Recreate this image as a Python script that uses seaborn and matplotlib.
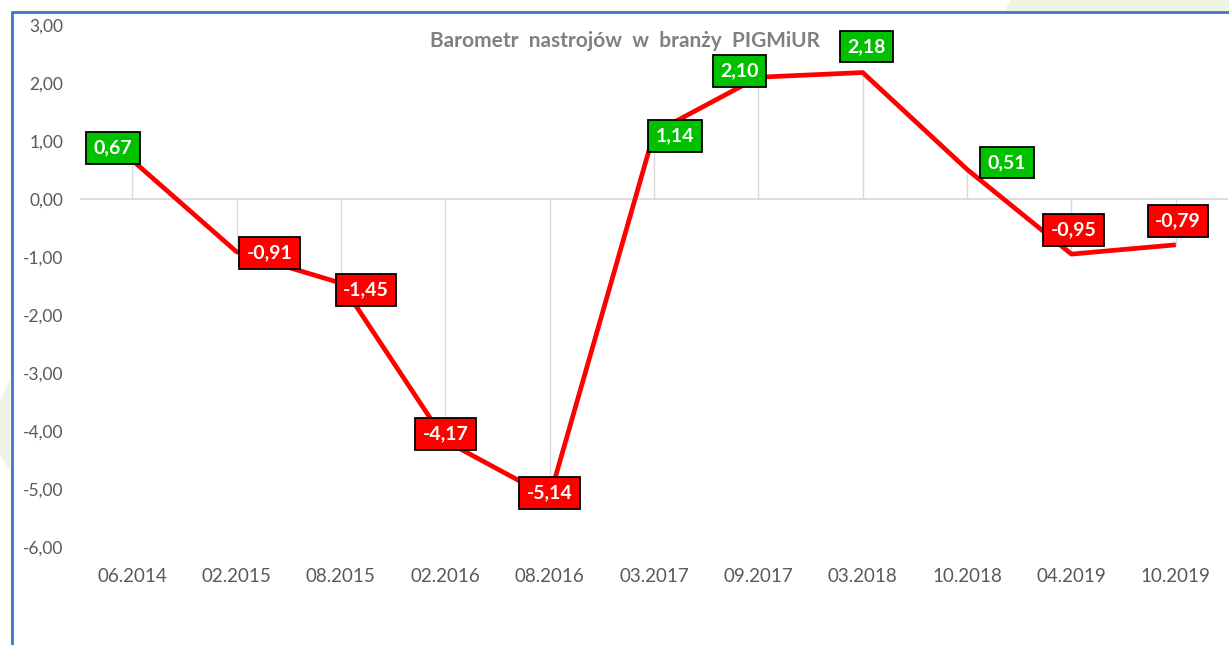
import numpy as np
import pandas as pd
import matplotlib
matplotlib.use("Agg")
import matplotlib.pyplot as plt
import matplotlib.patches as mpatches
from matplotlib.ticker import FuncFormatter
import seaborn as sns

# dane
okresy = ["06.2014", "02.2015", "08.2015", "02.2016", "08.2016", "03.2017",
          "09.2017", "03.2018", "10.2018", "04.2019", "10.2019"]
wartosci = [0.67, -0.91, -1.45, -4.17, -5.14, 1.14, 2.10, 2.18, 0.51, -0.95, -0.79]

# przesunięcia etykiet (piksele, x w prawo, y w górę)
przesuniecia = [(-19, 12), (33, -1), (25, -7), (0, 7), (0, 4), (21, -3),
                (-19, 6), (4, 26), (40, 7), (2, 24), (2, 24)]

df = pd.DataFrame({"okres": okresy, "wartosc": wartosci})

sns.set_style("white")
plt.rcParams["font.family"] = ["Lato", "DejaVu Sans"]

fig = plt.figure(figsize=(12.29, 6.45), dpi=100)
ax = fig.add_axes([80 / 1229, 1 - 547 / 645, 1148 / 1229, 522 / 645])

# linie od zera do punktu
x_pos = np.arange(len(okresy))
ax.vlines(x_pos, 0, df["wartosc"], color="#d9d9d9", lw=1.0, zorder=1)
ax.axhline(0, color="#d9d9d9", lw=1.3, zorder=1)

sns.lineplot(data=df, x="okres", y="wartosc", sort=False, color="#ff0000",
             lw=3.4, ax=ax, zorder=3, solid_joinstyle="round",
             solid_capstyle="butt")

# etykiety danych
for i, (v, (dx, dy)) in enumerate(zip(wartosci, przesuniecia)):
    kolor = "#00c000" if v > 0 else "#ff0000"
    ax.annotate(f"{v:.2f}".replace(".", ","), (i, v),
                xytext=(dx * 0.72, dy * 0.72), textcoords="offset points",
                ha="center", va="center", color="white", fontsize=14,
                fontweight="bold", zorder=5,
                bbox=dict(boxstyle="square,pad=0.38", fc=kolor, ec="black", lw=1.3))

ax.set_xlim(-0.5, len(okresy) - 0.5)
ax.set_ylim(-6, 3)
ax.set_yticks(np.arange(-6, 4, 1))
ax.yaxis.set_major_formatter(FuncFormatter(lambda v, p: f"{v:.2f}".replace(".", ",")))
ax.tick_params(axis="y", labelsize=12.5, colors="#595959", length=0, pad=12)
ax.tick_params(axis="x", labelsize=13.5, colors="#595959", length=0, pad=15)
ax.set_xlabel("")
ax.set_ylabel("")
for s in ax.spines.values():
    s.set_visible(False)

fig.text(625 / 1229, 1 - 41 / 645, "Barometr  nastrojów  w  branży  PIGMiUR",
         ha="center", va="center", fontsize=15, fontweight="bold", color="#808080")

# tło i ramka
fig.patches.append(mpatches.Polygon([[1010 / 1229, 1], [1, 1], [1, 1 - 11 / 645],
                                     [1005 / 1229, 1 - 11 / 645]],
                                    closed=True, transform=fig.transFigure,
                                    fc="#eef3e4", ec="none", zorder=0))
fig.patches.append(mpatches.Polygon([[0, 1 - 400 / 645], [10 / 1229, 1 - 380 / 645],
                                     [10 / 1229, 1 - 470 / 645], [0, 1 - 455 / 645]],
                                    closed=True, transform=fig.transFigure,
                                    fc="#eef3e4", ec="none", zorder=0))
fig.patches.append(mpatches.Rectangle((11.5 / 1229, -0.1), 1.2, 1.1 - 12 / 645,
                                      transform=fig.transFigure, fill=False,
                                      ec="#4472c4", lw=2, zorder=10))

fig.savefig("out.png", dpi=100)
